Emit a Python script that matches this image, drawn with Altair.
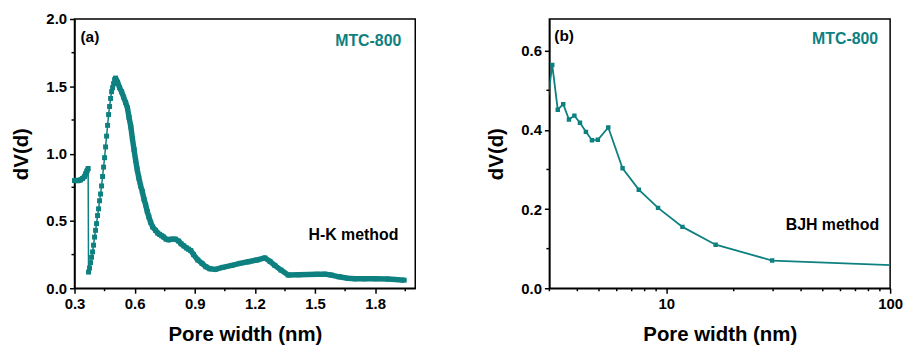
import altair as alt
import pandas as pd

TEAL = "#0e8080"
FONT = "Liberation Sans"

# ---------------- Panel (a): H-K method ----------------
hk_left_x = [0.300, 0.310, 0.320, 0.330, 0.340, 0.350, 0.356, 0.362, 0.368]
hk_left_y = [0.80, 0.80, 0.80, 0.805, 0.815, 0.83, 0.85, 0.87, 0.89]

hk_rise_x = [0.370, 0.375, 0.380, 0.385, 0.390, 0.395, 0.400, 0.405, 0.410, 0.415,
             0.420, 0.425, 0.430, 0.435, 0.440, 0.445, 0.450, 0.455, 0.460, 0.465,
             0.470, 0.475, 0.480, 0.485, 0.490, 0.495, 0.500, 0.505]
hk_rise_y = [0.12, 0.15, 0.19, 0.23, 0.27, 0.32, 0.38, 0.43, 0.48, 0.54,
             0.59, 0.65, 0.70, 0.76, 0.83, 0.90, 0.97, 1.05, 1.13, 1.21,
             1.29, 1.35, 1.41, 1.46, 1.49, 1.52, 1.55, 1.56]

hk_fall_x = [0.505, 0.515, 0.525, 0.535, 0.545, 0.555, 0.564, 0.572, 0.581, 0.589,
             0.597, 0.605, 0.613, 0.621, 0.630, 0.638, 0.647, 0.655, 0.663, 0.671,
             0.680, 0.690, 0.704, 0.715, 0.725, 0.735, 0.745, 0.757, 0.770, 0.785,
             0.803, 0.820, 0.832, 0.845, 0.858, 0.869, 0.880, 0.894, 0.915, 0.936,
             0.955, 0.975, 1.002, 1.040, 1.085, 1.125, 1.167, 1.210, 1.250, 1.275,
             1.299, 1.330, 1.366, 1.420, 1.465, 1.510, 1.548, 1.581, 1.620, 1.663,
             1.700, 1.746, 1.800, 1.863, 1.900, 1.945]
hk_fall_y = [1.56, 1.53, 1.49, 1.46, 1.42, 1.38, 1.34, 1.27, 1.20, 1.11,
             1.03, 0.95, 0.88, 0.82, 0.76, 0.72, 0.66, 0.62, 0.57, 0.53,
             0.49, 0.455, 0.43, 0.41, 0.40, 0.39, 0.38, 0.365, 0.36, 0.365,
             0.365, 0.35, 0.33, 0.315, 0.30, 0.29, 0.28, 0.25, 0.21, 0.185,
             0.16, 0.145, 0.14, 0.155, 0.17, 0.185, 0.197, 0.21, 0.225, 0.20,
             0.17, 0.135, 0.098, 0.10, 0.102, 0.104, 0.105, 0.098, 0.085, 0.074,
             0.070, 0.070, 0.070, 0.068, 0.065, 0.060]

x_ticks_a = [0.3, 0.6, 0.9, 1.2, 1.5, 1.8]
x_minor_a = [0.45, 0.75, 1.05, 1.35, 1.65, 1.95]
y_ticks_a = [0.0, 0.5, 1.0, 1.5, 2.0]
y_minor_a = [0.25, 0.75, 1.25, 1.75]

# ---------------- Panel (b): BJH method ----------------
bjh_x = [2.85, 3.09, 3.27, 3.46, 3.67, 3.88, 4.11, 4.37, 4.65, 4.94,
         5.50, 6.37, 7.53, 9.18, 11.8, 16.6, 29.7, 120.0]
bjh_y = [0.41, 0.564, 0.451, 0.465, 0.426, 0.436, 0.418, 0.395, 0.374, 0.375,
         0.406, 0.303, 0.249, 0.203, 0.155, 0.110, 0.070, 0.0565]

x_ticks_b = [10, 100]
x_minor_b = [3, 4, 5, 6, 7, 8, 9, 20, 30, 40, 50, 60, 70, 80, 90]
y_ticks_b = [0.0, 0.2, 0.4, 0.6]
y_minor_b = [0.1, 0.3, 0.5]

W, H = 343, 271


def label(text, x, y, align, color="black", size=16):
    return alt.Chart(pd.DataFrame({"t": [text]})).mark_text(
        align=align, baseline="middle", font=FONT, fontWeight="bold",
        fontSize=size, color=color).encode(
        x=alt.value(x), y=alt.value(y), text="t:N")


# ---------------- build panel (a) ----------------
rows = []
o = 0
for seg, xs, ys in [("left", hk_left_x, hk_left_y), ("rise", hk_rise_x, hk_rise_y),
                    ("fall", hk_fall_x, hk_fall_y)]:
    for xv, yv in zip(xs, ys):
        rows.append({"x": xv, "y": yv, "o": o, "seg": seg})
        o += 1
df_a = pd.DataFrame(rows)

xs_a = alt.Scale(domain=[0.3, 2.0], nice=False, zero=False)
ys_a = alt.Scale(domain=[0, 2.0], nice=False)

xa = alt.X("x:Q", scale=xs_a,
           axis=alt.Axis(values=x_ticks_a, format=".1f", title="Pore width (nm)",
                         titlePadding=14))
ya = alt.Y("y:Q", scale=ys_a,
           axis=alt.Axis(values=y_ticks_a, format=".1f", title="dV(d)"))

thin_a = alt.Chart(df_a).mark_line(color=TEAL, strokeWidth=1.5).encode(
    x=xa, y=ya, order="o:Q")
thick_a = alt.Chart(df_a[df_a.seg != "rise"]).mark_line(
    color=TEAL, strokeWidth=5.5, strokeJoin="round").encode(
    x=xa, y=ya, order="o:Q", detail="seg:N")
pts_a = alt.Chart(df_a).mark_square(color=TEAL, size=25, opacity=1).encode(x=xa, y=ya)

minx_a = alt.Chart(pd.DataFrame({"x": x_minor_a})).mark_rule(
    color="black", strokeWidth=1.5).encode(
    x=xa, y=alt.value(H), y2=alt.value(H + 3))
miny_a = alt.Chart(pd.DataFrame({"y": y_minor_a})).mark_rule(
    color="black", strokeWidth=1.5).encode(
    y=ya, x=alt.value(0), x2=alt.value(-3))

panel_a = alt.layer(
    thin_a, thick_a, pts_a, minx_a, miny_a,
    label("(a)", 6, 18, "left", size=15.5),
    label("MTC-800", 329, 22, "right", color=TEAL),
    label("H-K method", 326, 217, "right"),
).properties(width=W, height=H)

# ---------------- build panel (b) ----------------
df_b = pd.DataFrame({"x": bjh_x, "y": bjh_y, "o": range(len(bjh_x))})
xs_b = alt.Scale(type="log", domain=[3, 100], nice=False)
ys_b = alt.Scale(domain=[0, 0.68], nice=False)
xb = alt.X("x:Q", scale=xs_b,
           axis=alt.Axis(values=x_ticks_b, format="d", title="Pore width (nm)",
                         titlePadding=14))
yb = alt.Y("y:Q", scale=ys_b,
           axis=alt.Axis(values=y_ticks_b, format=".1f", title="dV(d)"))

line_b = alt.Chart(df_b).mark_line(color=TEAL, strokeWidth=1.8, clip=True).encode(
    x=xb, y=yb, order="o:Q")
pts_b = alt.Chart(df_b).mark_square(color=TEAL, size=20, opacity=1, clip=True).encode(
    x=xb, y=yb)
minx_b = alt.Chart(pd.DataFrame({"x": x_minor_b})).mark_rule(
    color="black", strokeWidth=1.5).encode(
    x=xb, y=alt.value(H), y2=alt.value(H + 3))
miny_b = alt.Chart(pd.DataFrame({"y": y_minor_b})).mark_rule(
    color="black", strokeWidth=1.5).encode(
    y=yb, x=alt.value(0), x2=alt.value(-3))

panel_b = alt.layer(
    line_b, pts_b, minx_b, miny_b,
    label("(b)", 5, 17, "left", size=15.5),
    label("MTC-800", 331, 20, "right", color=TEAL),
    label("BJH method", 332, 207, "right"),
).properties(width=W, height=H)

chart = alt.hconcat(panel_a, panel_b, spacing=70).configure(
    padding={"left": 11, "top": 10, "right": 5, "bottom": 0}
).configure_view(
    stroke="black", strokeWidth=1.5
).configure_axis(
    grid=False, domainColor="black", domainWidth=1.5,
    tickColor="black", tickWidth=1.5, tickSize=5,
    labelFont=FONT, labelFontWeight="bold", labelFontSize=15, labelColor="black",
    labelPadding=3, labelFlush=False, labelOverlap=False,
    titleFont=FONT, titleFontWeight="bold", titleFontSize=20.5, titleColor="black",
    titlePadding=14,
)

chart.save("out.html", embed_options={"renderer": "svg", "actions": False})
